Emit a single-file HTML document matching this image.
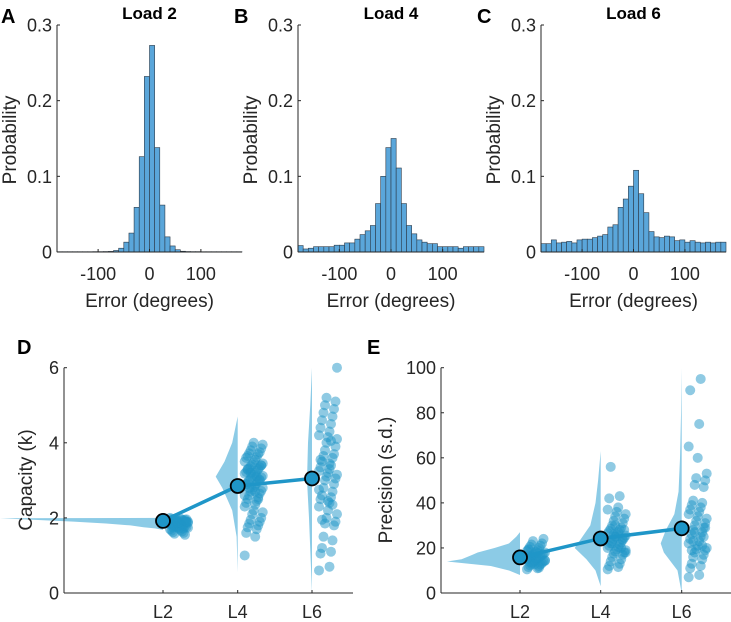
<!DOCTYPE html>
<html><head><meta charset="utf-8"><style>
html,body{margin:0;padding:0;background:#fff;}
svg{display:block;font-family:"Liberation Sans",Arial,sans-serif;}
</style></head><body>
<svg id="fig" width="731" height="622" viewBox="0 0 731 622">
<g id="root"></g>
</svg>
<script>
// ---------- Histogram data (36 bins, 10 degrees each, -180..180) ----------
const binEdgesStart = -180;
const binWidthDeg = 10;
const histLoad2 = [0.0004,0.0004,0.0004,0.0004,0.0004,0.0004,0.0004,0.0005,0.0005,0.0006,0.0008,0.002,0.005,0.013,0.025,0.059,0.126,0.232,0.273,0.138,0.062,0.02,0.008,0.003,0.001,0.0006,0.0005,0.0005,0.0004,0.0004,0.0004,0.0004,0.0004,0.0004,0.0004,0.0004];
const histLoad4 = [0.0085,0.004,0.005,0.007,0.007,0.007,0.007,0.009,0.009,0.012,0.012,0.017,0.023,0.028,0.035,0.064,0.1,0.138,0.15,0.111,0.064,0.035,0.024,0.016,0.013,0.011,0.011,0.007,0.007,0.007,0.007,0.005,0.007,0.007,0.007,0.007];
const histLoad6 = [0.011,0.011,0.016,0.012,0.013,0.014,0.012,0.016,0.017,0.017,0.019,0.021,0.023,0.033,0.036,0.059,0.07,0.087,0.108,0.077,0.052,0.027,0.02,0.019,0.021,0.02,0.015,0.016,0.013,0.015,0.013,0.012,0.013,0.012,0.013,0.013];
const histTitles = ["Load 2","Load 4","Load 6"];
const histXTicks = [-100,0,100];
const histYTicks = [0,0.1,0.2,0.3];

// ---------- Scatter data ----------
const groupLabels = ["L2","L4","L6"];
const capMeans = [1.92,2.85,3.05];
const precMeans = [15.8,24.2,28.7];
const capL2 = [2.0,1.98,1.97,1.95,1.94,1.93,1.92,1.91,1.9,1.89,1.88,1.87,1.86,1.85,1.84,1.83,1.82,1.81,1.8,1.79,1.78,1.77,1.76,1.75,1.74,1.72,1.7,1.68,1.66,1.64,1.62,1.6,1.58,1.55,1.99,1.96,1.93,1.9,1.88,1.85,1.82,1.8,1.78,1.75,1.72,1.97,1.95,1.92,1.9,1.87];
const capL4 = [1.0,1.5,1.6,1.7,1.75,1.8,1.85,1.9,1.95,2.0,2.1,2.15,2.2,2.3,2.35,2.4,2.45,2.5,2.55,2.6,2.65,2.7,2.72,2.75,2.8,2.82,2.85,2.88,2.9,2.92,2.95,2.98,3.0,3.02,3.05,3.08,3.1,3.12,3.15,3.18,3.2,3.22,3.25,3.28,3.3,3.32,3.35,3.38,3.4,3.42,3.45,3.48,3.5,3.55,3.6,3.62,3.65,3.7,3.72,3.75,3.8,3.85,3.9,3.95,4.0,2.6,2.7,2.9,3.1,3.3,2.5,2.8,3.0,3.2,3.4];
const capL6 = [0.6,0.7,1.05,1.1,1.2,1.4,1.5,1.8,1.85,1.9,2.0,2.1,2.2,2.3,2.4,2.5,2.55,2.6,2.7,2.8,2.9,3.0,3.05,3.1,3.15,3.2,3.25,3.3,3.35,3.4,3.5,3.6,3.65,3.7,3.8,3.9,4.0,4.1,4.15,4.2,4.3,4.4,4.5,4.6,4.7,4.8,4.9,5.0,5.1,5.2,6.0,2.45,2.75,3.45,3.55,4.05,1.95,2.35];
const precL2 = [10.5,11,11.5,12,12.3,12.6,13,13.3,13.6,14,14.2,14.5,14.8,15,15.2,15.5,15.8,16,16.2,16.5,16.8,17,17.3,17.6,18,18.3,18.6,19,19.5,20,20.5,21,21.5,22,23,24,12.8,14.3,15.6,16.6,17.8,19.2,11.2,13.8];
const precL4 = [10.5,11.5,12,13,14,15,16,17,17.5,18,18.5,19,19.5,20,20.5,21,21.5,22,22.5,23,23.5,24,24.5,25,25.5,26,26.5,27,27.5,28,28.5,29,30,31,32,33,34,35,36,37,38,42,43,56,20,22,24,26,28,30,18,25];
const precL6 = [7,8,11,12,13,15,16,17,18,19,19.5,20,21,22,23,24,25,26,27,28,29,30,31,32,33,34,35,36,37,38,39,40,41,47,48,50,51,53,60,65,75,90,95,19,21,23,25,27,29];

// violin shapes: [value, relative width 0..1]
const capViolinL2 = [[1.68,0],[1.72,0.05],[1.75,0.12],[1.8,0.2],[1.85,0.35],[1.9,0.55],[1.95,0.8],[1.99,1],[2.0,0]];
const capViolinL4 = [[0.55,0],[1.5,0.05],[2.2,0.25],[2.8,0.7],[3.1,1],[3.5,0.6],[4.0,0.25],[4.7,0]];
const capViolinL6 = [[0.0,0],[1.0,0.3],[2.0,0.6],[3.0,1],[4.0,0.8],[5.0,0.35],[6.0,0]];
const precViolinL2 = [[8,0],[10,0.15],[12,0.4],[13,0.7],[14,1],[15,0.8],[17,0.65],[18,0.58],[20,0.35],[22,0.15],[25,0.05],[27,0]];
const precViolinL4 = [[3,0],[10,0.2],[15,0.55],[20,1],[25,0.7],[30,0.4],[40,0.2],[50,0.1],[63,0]];
const precViolinL6 = [[0,0],[10,0.2],[18,0.85],[22,1],[28,0.75],[35,0.35],[45,0.15],[60,0.08],[80,0.03],[100,0]];

const NS="http://www.w3.org/2000/svg";
const root=document.getElementById('root');
function mk(tag,attrs,parent){const e=document.createElementNS(NS,tag);for(const k in attrs)e.setAttribute(k,attrs[k]);(parent||root).appendChild(e);return e;}
function txt(x,y,s,size,opts,parent){opts=opts||{};const t=mk('text',{x:x,y:y,'font-size':size,fill:opts.fill||'#262626','text-anchor':opts.anchor||'middle','font-weight':opts.weight||'normal'},parent);if(opts.rot)t.setAttribute('transform','rotate(-90 '+x+' '+y+')');t.textContent=s;return t;}

const TICK=18, LAB=19;
// ---------- Histograms ----------
const histPanels=[{x0:57,x1:242,data:histLoad2,letter:'A',lx:1},{x0:298,x1:484,data:histLoad4,letter:'B',lx:234},{x0:541,x1:726,data:histLoad6,letter:'C',lx:477}];
const hy0=252, hy1=25;
histPanels.forEach((p,pi)=>{
  const g=mk('g',{});
  
  
  const xs=v=>p.x0+(v+180)/360*(p.x1-p.x0);
  const ys=v=>hy0-v/0.3*(hy0-hy1);
  p.data.forEach((v,i)=>{
    const a=binEdgesStart+i*binWidthDeg;
    const r=mk('rect',{x:xs(a),y:ys(v),width:xs(a+binWidthDeg)-xs(a),height:hy0-ys(v),fill:'#5aa6da',stroke:'#2b3a48','stroke-width':0.6},g);
    
    
  });
  mk('line',{x1:p.x0,y1:hy1,x2:p.x0,y2:hy0,stroke:'#262626','stroke-width':1},g);
  mk('line',{x1:p.x0,y1:hy0,x2:p.x1,y2:hy0,stroke:'#262626','stroke-width':1},g);
  histYTicks.forEach(t=>{const y=ys(t);mk('line',{x1:p.x0,y1:y,x2:p.x0+3,y2:y,stroke:'#262626'},g);const l=txt(p.x0-5,y+6.5,t===0?'0':String(t),TICK,{anchor:'end'},g);});
  histXTicks.forEach(t=>{const x=xs(t);mk('line',{x1:x,y1:hy0,x2:x,y2:hy0-3,stroke:'#262626'},g);const l=txt(x,280,String(t),TICK,{},g);});
  const xl=txt((p.x0+p.x1)/2,307,'Error (degrees)',LAB,{},g);
  const yl=txt(p.x0-41,140,'Probability',LAB,{rot:true},g);
  const tt=txt((p.x0+p.x1)/2,19,histTitles[pi],17,{weight:'bold',fill:'#000'},g);
  const le=txt(p.lx,23,p.letter,20,{weight:'bold',fill:'#000',anchor:'start'},g);
});

// ---------- Scatter panels ----------
const sy0=593, sy1=367.7;
const scPanels=[
 {name:'capacity',letter:'D',lx:17,ly:355,x0:64,x1:353,ymax:6,ticks:[0,2,4,6],centers:[163,237.7,312],means:capMeans,pts:[capL2,capL4,capL6],viol:[capViolinL2,capViolinL4,capViolinL6],vw:[163,22,5],ylab:'Capacity (k)',ylx:32},
 {name:'precision',letter:'E',lx:367,ly:355,x0:441,x1:731,ymax:100,ticks:[0,20,40,60,80,100],centers:[520,600.7,681.7],means:precMeans,pts:[precL2,precL4,precL6],viol:[precViolinL2,precViolinL4,precViolinL6],vw:[73,26,21],ylab:'Precision (s.d.)',ylx:392}
];
scPanels.forEach(p=>{
  const g=mk('g',{});
  
  
  const ys=v=>sy0-v/p.ymax*(sy0-sy1);
  p.viol.forEach((v,gi)=>{
    const c=p.centers[gi];
    let d='M'+c+','+ys(v[0][0]);
    v.forEach(q=>{d+=' L'+(c-q[1]*p.vw[gi])+','+ys(q[0]);});
    d+=' L'+c+','+ys(v[v.length-1][0])+' Z';
    const pa=mk('path',{d:d,fill:'#8ccbe6',stroke:'none'},g);
    
    
  });
  p.pts.forEach((arr,gi)=>{
    const c=p.centers[gi];
    arr.forEach((v,i)=>{
      const off=7+((i*7)%13)/12*18;
      const ci=mk('circle',{cx:c+off,cy:ys(v),r:5,fill:'#1f96c8','fill-opacity':0.5},g);
      
      
    });
  });
  const pl=mk('polyline',{points:p.means.map((m,i)=>p.centers[i]+','+ys(m)).join(' '),fill:'none',stroke:'#1f96c8','stroke-width':3.5},g);
  
  
  p.means.forEach((m,i)=>{
    const ci=mk('circle',{cx:p.centers[i],cy:ys(m),r:7,fill:'#1f96c8',stroke:'#000','stroke-width':1.8},g);
    
    
  });
  mk('line',{x1:p.x0,y1:sy1,x2:p.x0,y2:sy0,stroke:'#262626','stroke-width':1},g);
  mk('line',{x1:p.x0,y1:sy0,x2:p.x1,y2:sy0,stroke:'#262626','stroke-width':1},g);
  p.ticks.forEach(t=>{const y=ys(t);mk('line',{x1:p.x0,y1:y,x2:p.x0+3,y2:y,stroke:'#262626'},g);const l=txt(p.x0-5,y+6.5,String(t),TICK,{anchor:'end'},g);});
  p.centers.forEach((x,i)=>{mk('line',{x1:x,y1:sy0,x2:x,y2:sy0-3,stroke:'#262626'},g);const l=txt(x,618,groupLabels[i],TICK,{},g);});
  const yl=txt(p.ylx,480,p.ylab,LAB,{rot:true},g);
  const le=txt(p.lx,354,p.letter,20,{weight:'bold',fill:'#000',anchor:'start'},g);
});
</script>
</body></html>
